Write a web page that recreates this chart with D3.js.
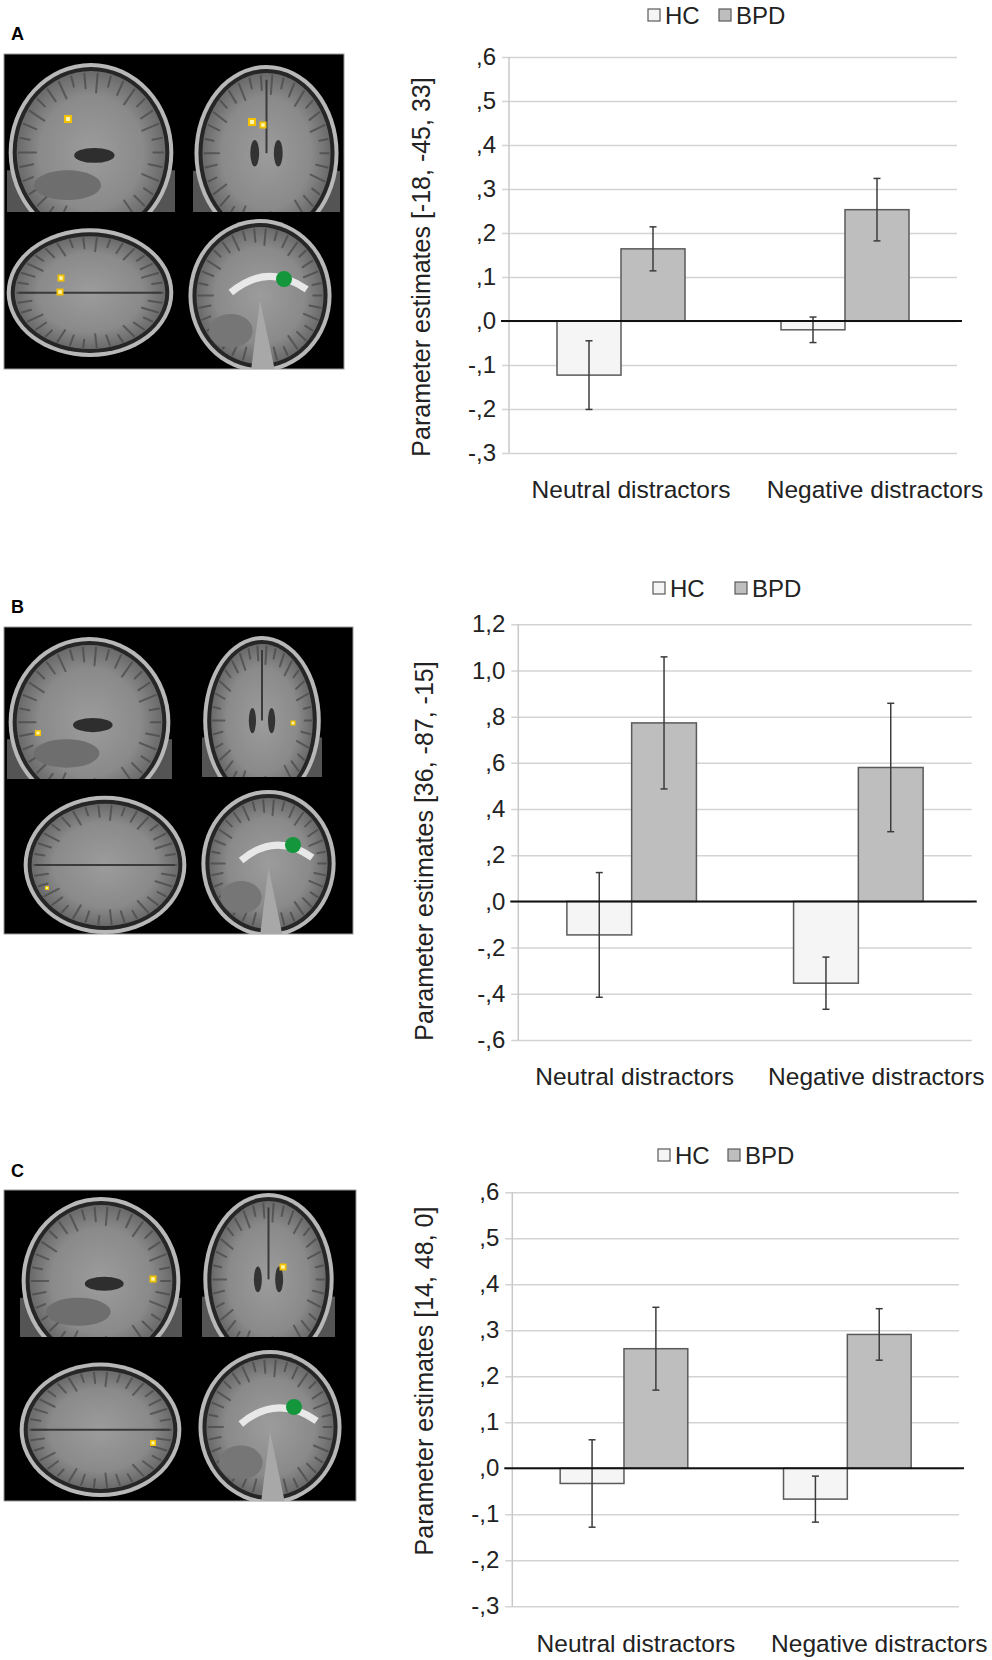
<!DOCTYPE html>
<html>
<head>
<meta charset="utf-8">
<script src="https://cdn.jsdelivr.net/npm/d3@7"></script>
<style>
  body { margin: 0; background: #fff; }
  text { font-family: "Liberation Sans", Arial, sans-serif; }
</style>
</head>
<body>
<div id="fig"></div>
<script>
// data
let categories = ["Neutral distractors", "Negative distractors"];
let groups = ["HC", "BPD"];

let hcA = [-0.123, -0.020];
let bpdA = [0.164, 0.253];
let hcErrA = [0.078, 0.029];
let bpdErrA = [0.050, 0.071];

let hcB = [-0.145, -0.354];
let bpdB = [0.773, 0.580];
let hcErrB = [0.270, 0.113];
let bpdErrB = [0.286, 0.278];

let hcC = [-0.033, -0.067];
let bpdC = [0.260, 0.291];
let hcErrC = [0.095, 0.050];
let bpdErrC = [0.090, 0.056];

let ticksA = [-0.3, -0.2, -0.1, 0, 0.1, 0.2, 0.3, 0.4, 0.5, 0.6];
let ticksB = [-0.6, -0.4, -0.2, 0, 0.2, 0.4, 0.6, 0.8, 1.0, 1.2];
let ticksC = [-0.3, -0.2, -0.1, 0, 0.1, 0.2, 0.3, 0.4, 0.5, 0.6];

let titleA = "Parameter estimates [-18, -45, 33]";
let titleB = "Parameter estimates [36, -87, -15]";
let titleC = "Parameter estimates [14, 48, 0]";

let groupFill = {HC: "#f5f5f5", BPD: "#bebebe"};

let width = 992, height = 1660;

let svg = d3.select("#fig").append("svg")
  .attr("width", width)
  .attr("height", height);

let defs = svg.append("defs");
let grad = defs.append("radialGradient").attr("id", "brainGrad");
grad.append("stop").attr("offset", "0%").attr("stop-color", "#9c9c9c");
grad.append("stop").attr("offset", "70%").attr("stop-color", "#8a8a8a");
grad.append("stop").attr("offset", "100%").attr("stop-color", "#6a6a6a");

// decimal comma, no leading zero (",6", "-,3", "1,2")
let loc = d3.formatLocale({decimal: ",", thousands: ".", grouping: [3], currency: ["", ""], minus: "-"});
let f1 = loc.format(".1f");
function tickFmt(v) { return f1(v).replace(/^(-?)0,/, "$1,"); }

// layout of each panel
let panels = [
  {letter: "A", letterY: 40, hc: hcA, bpd: bpdA, hcErr: hcErrA, bpdErr: bpdErrA, ticks: ticksA, title: titleA,
   left: 509, right: 957, top: 57, bottom: 453, legY: 15, legX: [648, 719], titleX: 430, titleY: 267, catDx: [10, 30],
   img: {x: 4, y: 54, w: 340, h: 315},
   quads: [
     {type: "sag", x: 7, y: 63, w: 168, h: 149},
     {type: "cor", x: 193, y: 65, w: 147, h: 147},
     {type: "axi", x: 5, y: 223, w: 170, h: 134},
     {type: "mid", x: 187, y: 216, w: 146, h: 153}],
   spots: [[68, 119, 8], [252, 122, 8], [263, 125, 7], [61, 278, 7], [60, 292, 7]],
   green: [284, 279]},
  {letter: "B", letterY: 613, hc: hcB, bpd: bpdB, hcErr: hcErrB, bpdErr: bpdErrB, ticks: ticksB, title: titleB,
   left: 518.3, right: 971.7, top: 624.3, bottom: 1040, legY: 588, legX: [653, 735], titleX: 433, titleY: 851, catDx: [3, 18],
   img: {x: 4, y: 627, w: 349, h: 307},
   quads: [
     {type: "sag", x: 7, y: 637, w: 165, h: 142},
     {type: "cor", x: 202, y: 636, w: 120, h: 141},
     {type: "axi", x: 22, y: 790, w: 166, h: 144},
     {type: "mid", x: 200, y: 787, w: 137, h: 147}],
   spots: [[38, 733, 6], [293, 723, 5], [47, 888, 4]],
   green: [293, 845]},
  {letter: "C", letterY: 1177, hc: hcC, bpd: bpdC, hcErr: hcErrC, bpdErr: bpdErrC, ticks: ticksC, title: titleC,
   left: 512.3, right: 959, top: 1192.3, bottom: 1606.3, legY: 1155, legX: [658, 728], titleX: 433, titleY: 1381, catDx: [12, 32],
   img: {x: 4, y: 1190, w: 352, h: 311},
   quads: [
     {type: "sag", x: 20, y: 1197, w: 162, h: 140},
     {type: "cor", x: 202, y: 1193, w: 133, h: 144},
     {type: "axi", x: 18, y: 1357, w: 165, h: 140},
     {type: "mid", x: 197, y: 1347, w: 146, h: 154}],
   spots: [[153, 1279, 7], [283, 1267, 7], [153, 1443, 6]],
   green: [294, 1407]}
];

function drawChart(p) {
  let g = svg.append("g");
  let y = d3.scaleLinear().domain(d3.extent(p.ticks)).range([p.bottom, p.top]);
  let x = d3.scaleBand().domain(categories).range([p.left, p.right]);
  let xs = d3.scaleBand().domain(groups).range([0, x.bandwidth()]).paddingOuter(0.75);

  // gridlines + tick labels from one axis anchored at the right edge
  let yAxis = g.append("g")
    .attr("transform", `translate(${p.right},0)`)
    .call(d3.axisLeft(y).tickValues(p.ticks).tickSize(p.right - p.left + 7).tickPadding(6).tickFormat(tickFmt));
  yAxis.select(".domain").remove();
  yAxis.attr("font-family", "Liberation Sans, Arial, sans-serif").attr("font-size", 24);
  yAxis.selectAll(".tick line").attr("stroke", "#d3d3d3").attr("stroke-width", 1.5);
  yAxis.selectAll(".tick text").attr("fill", "#222");

  g.append("line")
    .attr("x1", p.left).attr("x2", p.left)
    .attr("y1", y.range()[1]).attr("y2", y.range()[0])
    .attr("stroke", "#c8c8c8").attr("stroke-width", 1.5);

  let series = [
    {key: "HC", vals: p.hc, errs: p.hcErr},
    {key: "BPD", vals: p.bpd, errs: p.bpdErr}
  ];

  let sg = g.selectAll(".series").data(series).enter().append("g");

  sg.selectAll("rect")
    .data(s => s.vals.map((v, i) => ({key: s.key, cat: categories[i], v: v, e: s.errs[i]})))
    .enter().append("rect")
    .attr("x", d => x(d.cat) + xs(d.key))
    .attr("width", xs.bandwidth())
    .attr("y", d => Math.min(y(d.v), y(0)))
    .attr("height", d => Math.abs(y(d.v) - y(0)))
    .attr("fill", d => groupFill[d.key])
    .attr("stroke", "#5a5a5a")
    .attr("stroke-width", 1.5);

  // zero line
  g.append("line")
    .attr("x1", p.left - 8).attr("x2", p.right + 5)
    .attr("y1", y(0)).attr("y2", y(0))
    .attr("stroke", "#111").attr("stroke-width", 2);

  // error bars
  let eb = sg.selectAll(".err")
    .data(s => s.vals.map((v, i) => ({key: s.key, cat: categories[i], v: v, e: s.errs[i]})))
    .enter().append("g")
    .attr("stroke", "#3c3c3c").attr("stroke-width", 1.5);
  let cx = d => x(d.cat) + xs(d.key) + xs.bandwidth() / 2;
  eb.append("line")
    .attr("x1", cx).attr("x2", cx)
    .attr("y1", d => y(d.v + d.e)).attr("y2", d => y(d.v - d.e));
  eb.append("line")
    .attr("x1", d => cx(d) - 3.5).attr("x2", d => cx(d) + 3.5)
    .attr("y1", d => y(d.v + d.e)).attr("y2", d => y(d.v + d.e));
  eb.append("line")
    .attr("x1", d => cx(d) - 3.5).attr("x2", d => cx(d) + 3.5)
    .attr("y1", d => y(d.v - d.e)).attr("y2", d => y(d.v - d.e));

  // category labels
  let xAxis = g.append("g")
    .attr("transform", `translate(0,${p.bottom})`)
    .call(d3.axisBottom(x).tickSize(0).tickPadding(28));
  xAxis.select(".domain").remove();
  xAxis.attr("font-family", "Liberation Sans, Arial, sans-serif").attr("font-size", 24.5);
  xAxis.selectAll(".tick text").attr("fill", "#222").attr("dx", (d, i) => p.catDx[i]);

  // legend
  let lg = g.selectAll(".leg").data(groups).enter().append("g")
    .attr("transform", (d, i) => `translate(${p.legX[i]},${p.legY})`);
  lg.append("rect")
    .attr("x", 0).attr("y", -6).attr("width", 12).attr("height", 12)
    .attr("fill", d => groupFill[d]).attr("stroke", "#5a5a5a").attr("stroke-width", 1.2);
  lg.append("text")
    .attr("x", 17).attr("y", 8.5)
    .attr("font-size", 24).attr("fill", "#222")
    .text(d => d);

  // y axis title
  g.append("text")
    .attr("transform", `translate(${p.titleX},${p.titleY}) rotate(-90)`)
    .attr("text-anchor", "middle")
    .attr("font-size", 25).attr("fill", "#222")
    .text(p.title);

  // panel letter
  g.append("text")
    .attr("x", 11).attr("y", p.letterY)
    .attr("font-size", 18).attr("font-weight", "bold").attr("fill", "#000")
    .text(p.letter);
}

// rough stand-in for the MRI slice montage
let clipId = 0;
function drawBrains(p) {
  let g = svg.append("g");
  g.append("rect")
    .attr("x", p.img.x).attr("y", p.img.y).attr("width", p.img.w).attr("height", p.img.h)
    .attr("fill", "#000").attr("stroke", "#9a9a9a").attr("stroke-width", 1);

  p.quads.forEach(q => {
    let id = "clip" + (clipId++);
    g.append("clipPath").attr("id", id).append("rect")
      .attr("x", q.x).attr("y", q.y).attr("width", q.w).attr("height", q.h);
    let qg = g.append("g").attr("clip-path", `url(#${id})`);
    let cxq = q.x + q.w / 2;
    let top = q.type === "sag" || q.type === "cor";
    let cyq = top ? q.y + q.h * 0.6 : q.y + q.h * 0.52;
    let rx = q.w * 0.49, ry = top ? q.h * 0.6 : q.h * 0.5;
    if (q.type === "axi") { ry = q.h * 0.48; }

    if (top) {
      // lower head tissue
      qg.append("rect").attr("x", q.x).attr("y", q.y + q.h * 0.72).attr("width", q.w).attr("height", q.h * 0.28)
        .attr("fill", "#545454");
    }
    qg.append("ellipse").attr("cx", cxq).attr("cy", cyq).attr("rx", rx).attr("ry", ry)
      .attr("fill", "#b8b8b8");
    qg.append("ellipse").attr("cx", cxq).attr("cy", cyq).attr("rx", rx - 4).attr("ry", ry - 4)
      .attr("fill", "#262626");
    qg.append("ellipse").attr("cx", cxq).attr("cy", cyq).attr("rx", rx - 8).attr("ry", ry - 8)
      .attr("fill", "url(#brainGrad)");

    // sulci around the cortex
    let n = 34;
    d3.range(n).forEach(k => {
      let a = (k / n) * 2 * Math.PI;
      let r1 = 0.97, r2 = 0.84 - (k % 3) * 0.05;
      qg.append("line")
        .attr("x1", cxq + Math.cos(a) * (rx - 8) * r1).attr("y1", cyq + Math.sin(a) * (ry - 8) * r1)
        .attr("x2", cxq + Math.cos(a) * (rx - 8) * r2).attr("y2", cyq + Math.sin(a) * (ry - 8) * r2)
        .attr("stroke", "#474747").attr("stroke-width", 2).attr("stroke-linecap", "round").attr("opacity", 0.7);
    });

    if (q.type === "sag") {
      qg.append("ellipse").attr("cx", cxq + q.w * 0.02).attr("cy", cyq + q.h * 0.02).attr("rx", q.w * 0.12).attr("ry", q.h * 0.05)
        .attr("fill", "#2e2e2e");
      qg.append("ellipse").attr("cx", cxq - q.w * 0.14).attr("cy", cyq + q.h * 0.22).attr("rx", q.w * 0.2).attr("ry", q.h * 0.1)
        .attr("fill", "#6e6e6e");
    } else if (q.type === "cor") {
      qg.append("line").attr("x1", cxq).attr("x2", cxq).attr("y1", q.y + q.h * 0.1).attr("y2", cyq)
        .attr("stroke", "#3a3a3a").attr("stroke-width", 2);
      qg.append("ellipse").attr("cx", cxq - q.w * 0.08).attr("cy", cyq).attr("rx", q.w * 0.03).attr("ry", q.h * 0.09).attr("fill", "#333");
      qg.append("ellipse").attr("cx", cxq + q.w * 0.08).attr("cy", cyq).attr("rx", q.w * 0.03).attr("ry", q.h * 0.09).attr("fill", "#333");
    } else if (q.type === "axi") {
      qg.append("line").attr("x1", q.x + q.w * 0.08).attr("x2", q.x + q.w * 0.92).attr("y1", cyq).attr("y2", cyq)
        .attr("stroke", "#3a3a3a").attr("stroke-width", 2);
    } else if (q.type === "mid") {
      qg.append("ellipse").attr("cx", q.x + q.w * 0.3).attr("cy", q.y + q.h * 0.75).attr("rx", q.w * 0.15).attr("ry", q.h * 0.11)
        .attr("fill", "#767676");
      qg.append("path")
        .attr("d", `M${q.x + q.w * 0.3},${q.y + q.h * 0.5} Q${q.x + q.w * 0.55},${q.y + q.h * 0.3} ${q.x + q.w * 0.82},${q.y + q.h * 0.48}`)
        .attr("fill", "none").attr("stroke", "#e8e8e8").attr("stroke-width", 7);
      qg.append("path")
        .attr("d", `M${q.x + q.w * 0.5},${q.y + q.h * 0.55} L${q.x + q.w * 0.44},${q.y + q.h} L${q.x + q.w * 0.6},${q.y + q.h} Z`)
        .attr("fill", "#a8a8a8");
    }
  });

  // activation spots
  p.spots.forEach(s => {
    g.append("rect").attr("x", s[0] - s[2] / 2).attr("y", s[1] - s[2] / 2).attr("width", s[2]).attr("height", s[2])
      .attr("fill", "#f2c200");
    g.append("rect").attr("x", s[0] - s[2] / 4).attr("y", s[1] - s[2] / 4).attr("width", s[2] / 2).attr("height", s[2] / 2)
      .attr("fill", "#fff6b0");
  });
  g.append("circle").attr("cx", p.green[0]).attr("cy", p.green[1]).attr("r", 8).attr("fill", "#14963c");
}

panels.forEach(p => { drawBrains(p); drawChart(p); });
</script>
</body>
</html>
